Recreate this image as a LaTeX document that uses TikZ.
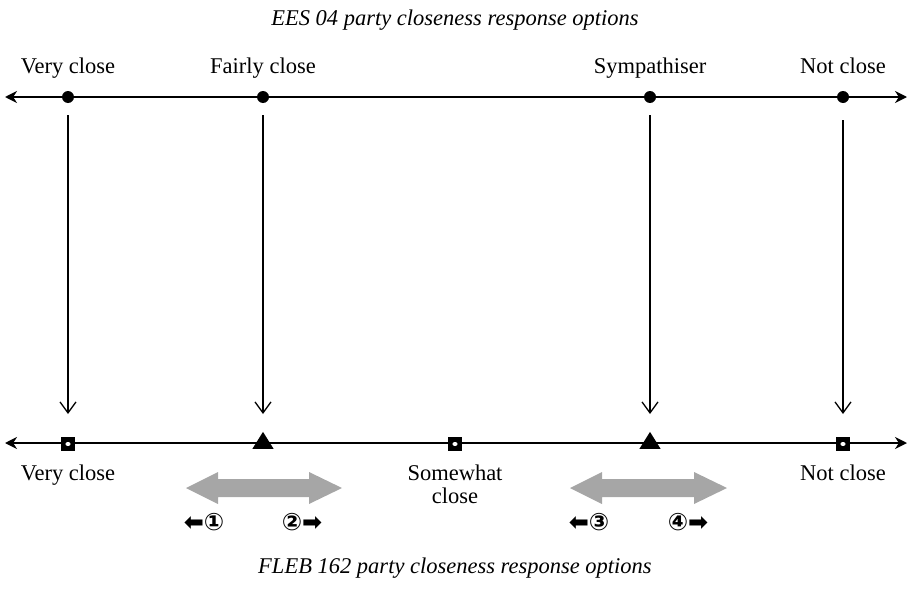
\documentclass[tikz,border=0pt]{standalone}
\usepackage{fontspec}
\setmainfont{Liberation Serif}
\newfontfamily\symfont{DejaVu Sans}
\usetikzlibrary{arrows.meta,shapes.geometric}
\definecolor{arrowgray}{HTML}{A6A6A6}
\tikzset{
  lbl/.style={font=\fontsize{22.5}{26}\selectfont, inner sep=0pt, anchor=base},
  ttl/.style={font=\fontsize{22.5}{26}\selectfont\itshape, inner sep=0pt, anchor=base},
  sym/.style={font=\fontsize{24}{26}\selectfont\symfont\bfseries, inner sep=0pt, anchor=center},
  axis/.style={line width=2pt, {Stealth[length=12pt,width=12pt]}-{Stealth[length=12pt,width=12pt]}},
  drop/.style={line width=1.3pt, -{Straight Barb[length=11pt,width=16pt,line width=1.3pt]}},
  dot/.style={circle, fill=black, minimum size=12pt, inner sep=0pt},
  sq/.style={rectangle, fill=black, minimum size=14pt, inner sep=0pt},
  tri/.style={isosceles triangle, isosceles triangle apex angle=64, shape border rotate=90, fill=black, minimum height=17pt, inner sep=0pt},
  garrow/.style={fill=arrowgray, draw=none}
}
\begin{document}
\begin{tikzpicture}[x=1pt,y=-1pt]
\useasboundingbox (0,0) rectangle (911,589);
% titles
\node[ttl] (t1) at (455,25) {EES 04 party closeness response options};
\node[ttl] (t2) at (455,573) {FLEB 162 party closeness response options};
% top axis
\coordinate (tl) at (5,97);
\coordinate (tr) at (907,97);
\draw[axis] (tl) -- (tr);
\node[dot] (d1) at (68,97) {};
\node[dot] (d2) at (263,97) {};
\node[dot] (d3) at (650,97) {};
\node[dot] (d4) at (843,97) {};
\node[lbl] (l1) at (68,73) {Very close};
\node[lbl] (l2) at (263,73) {Fairly close};
\node[lbl] (l3) at (650,73) {Sympathiser};
\node[lbl] (l4) at (843,73) {Not close};
% bottom axis
\coordinate (bl) at (5,443);
\coordinate (br) at (907,443);
\draw[axis] (bl) -- (br);
\node[sq] (s1) at (68,444) {};
\node[sq] (s2) at (455,444) {};
\node[sq] (s3) at (843,444) {};
\foreach \s in {s1,s2,s3}{
  \fill[white] (\s.center) ellipse (2.6pt and 2pt);
}
\node[tri] (p1) at (263,443) {};
\node[tri] (p2) at (650,443) {};
% vertical connectors
\coordinate (a1) at (68,115);
\coordinate (a2) at (263,115);
\coordinate (a3) at (650,115);
\coordinate (a4) at (843,120);
\coordinate (b1) at (68,414);
\coordinate (b2) at (263,414);
\coordinate (b3) at (650,414);
\coordinate (b4) at (843,414);
\draw[drop] (a1) -- (b1);
\draw[drop] (a2) -- (b2);
\draw[drop] (a3) -- (b3);
\draw[drop] (a4) -- (b4);
% bottom labels
\node[lbl] (m1) at (68,480) {Very close};
\node[lbl] (m2) at (455,480) {Somewhat};
\node[lbl] (m2b) at (455,503) {close};
\node[lbl] (m3) at (843,480) {Not close};
% gray double arrows
\fill[garrow] (186,488) -- (218,472) -- (218,479) -- (309,479) -- (309,472) -- (342,488)
  -- (309,504) -- (309,497) -- (218,497) -- (218,504) -- cycle;
\fill[garrow] (570,488) -- (602,472) -- (602,479) -- (694,479) -- (694,472) -- (727,488)
  -- (694,504) -- (694,497) -- (602,497) -- (602,504) -- cycle;
% numbered hints
\node[sym] (n1) at (204,522) {⬅①};
\node[sym] (n2) at (302,522) {②➡};
\node[sym] (n3) at (589,522) {⬅③};
\node[sym] (n4) at (688,522) {④➡};
\end{tikzpicture}
\end{document}
